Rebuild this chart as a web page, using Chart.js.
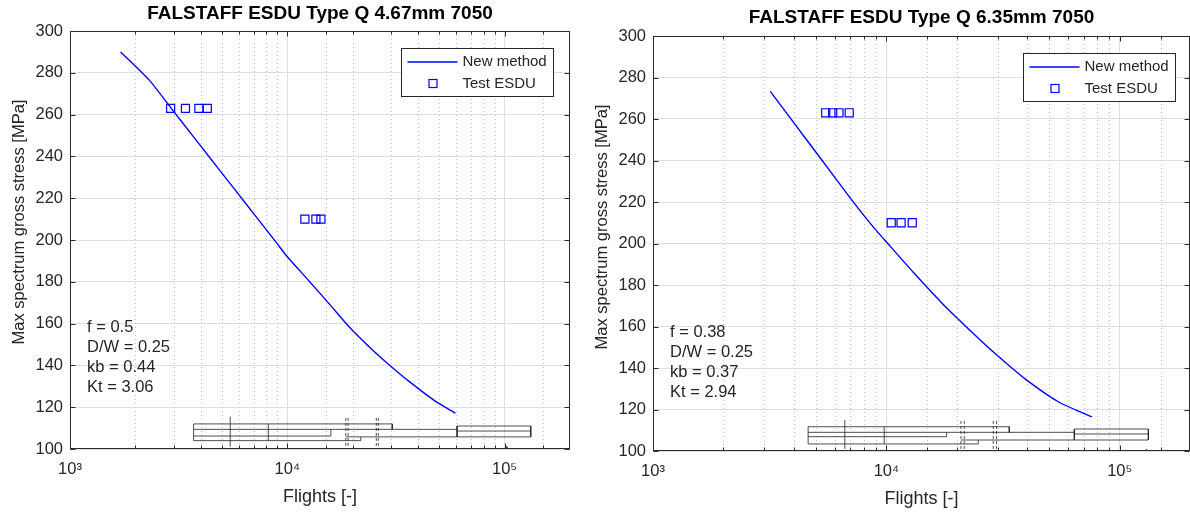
<!DOCTYPE html>
<html>
<head>
<meta charset="utf-8">
<script src="https://cdn.jsdelivr.net/npm/chart.js@4.4.1/dist/chart.umd.min.js"></script>
<style>
  html, body { margin: 0; padding: 0; background: #fff; }
  body { width: 1190px; height: 515px; position: relative; overflow: hidden; }
  .panel { position: absolute; top: 0; height: 515px; }
  #leftPanel { left: 0; width: 595px; }
  #rightPanel { left: 583px; width: 618px; }
</style>
</head>
<body>
<div class="panel" id="leftPanel"><canvas id="chartLeft"></canvas></div>
<div class="panel" id="rightPanel"><canvas id="chartRight"></canvas></div>
<script>
// ---- data ----
const titleLeft = 'FALSTAFF ESDU Type Q 4.67mm 7050';
const titleRight = 'FALSTAFF ESDU Type Q 6.35mm 7050';
const xTitle = 'Flights [-]';
const yTitle = 'Max spectrum gross stress [MPa]';

// "New method" curves (flights, stress MPa)
const newFlightsLeft = [1710, 2312, 2924, 3681, 4385, 5610, 7178, 8872, 10000, 12618, 15849, 19231, 24604, 30409, 35975, 47206, 59429];
const newStressLeft  = [290, 276.6, 263, 249.7, 239.6, 225.4, 211.2, 199, 192, 180.3, 168.6, 158.5, 147.5, 139, 132.7, 123.4, 117.1];
const newFlightsRight = [3182, 3914, 5309, 7009, 8778, 10320, 13070, 17230, 23150, 29490, 39560, 54970, 75900];
const newStressRight  = [273.3, 259.8, 240, 221.9, 208, 199, 186, 171.5, 157.5, 146.6, 134.5, 123.5, 116.4];

// short blue piece that dips under the axis near 1e5
const tailFlightsLeft = [102000, 107000];
const tailStressLeft  = [101.3, 97];
const tailFlightsRight = [130000, 134000];
const tailStressRight  = [100.8, 97];

// "Test ESDU" squares
const testFlightsLeft = [2905, 3398, 3918, 4284, 12050, 13540, 14280];
const testStressLeft  = [263, 263, 263, 263, 210, 210, 210];
const testFlightsRight = [5496, 5888, 6265, 6930, 10490, 11560, 12910];
const testStressRight  = [263, 263, 263, 263, 210, 210, 210];

// black box outline at the bottom: [x1, y1, x2, y2]
const boxLinesLeft = [
  [3706, 112, 30410, 112], [30410, 112, 30410, 109.4], [3706, 109.4, 60420, 109.4],
  [3706, 106.2, 15870, 106.2], [15870, 106.2, 15870, 109.4], [3706, 104, 21780, 104],
  [21780, 104, 21780, 105.8], [18590, 105.8, 132000, 105.8], [60420, 111, 132000, 111],
  [60420, 111, 60420, 105.8], [132000, 111, 132000, 105.8], [60420, 108.6, 132000, 108.6],
  [3706, 104, 3706, 112], [8180, 104, 8180, 112], [5461, 101.1, 5461, 115.5]
];
const boxDashLeft = [
  [18590, 101.5, 18590, 115.5], [19050, 101.5, 19050, 115.5],
  [25680, 101.5, 25680, 115.5], [26230, 101.5, 26230, 115.5]
];
const boxLinesRight = [
  [4620, 111.7, 33620, 111.7], [33620, 111.7, 33620, 109], [4620, 109, 63880, 109],
  [4620, 106.9, 18120, 106.9], [18120, 106.9, 18120, 109], [4620, 103.4, 24760, 103.4],
  [24760, 103.4, 24760, 105.3], [20870, 105.3, 132600, 105.3], [63880, 110.6, 132600, 110.6],
  [63880, 110.6, 63880, 105.3], [132600, 110.6, 132600, 105.3], [63880, 108.2, 132600, 108.2],
  [4620, 103.4, 4620, 111.7], [9786, 103.4, 9786, 111.7], [6637, 101, 6637, 114.9]
];
const boxDashRight = [
  [20870, 101, 20870, 114.9], [21560, 101, 21560, 114.9],
  [28710, 101, 28710, 114.9], [29650, 101, 29650, 114.9]
];

const notesLeft = ['f = 0.5', 'D/W = 0.25', 'kb = 0.44', 'Kt = 3.06'];
const notesRight = ['f = 0.38', 'D/W = 0.25', 'kb = 0.37', 'Kt = 2.94'];

const xMin = 1000, xMax = 200000;
const yMin = 100, yMax = 300, yStep = 20;
const legendLabels = ['New method', 'Test ESDU'];

// ---- helpers ----
const FONT = '"Liberation Sans", Arial, Helvetica, sans-serif';
const TXT = '#262626';
const BLUE = '#0000ff';
const SUP = { '0': '\u2070', '1': '\u00b9', '2': '\u00b2', '3': '\u00b3', '4': '\u2074', '5': '\u2075', '6': '\u2076' };

function isPow10(v) {
    const l = Math.log10(v);
    return Math.abs(l - Math.round(l)) < 1e-9;
}

function toPoints(xs, ys) {
    return xs.map((x, i) => ({ x: x, y: ys[i] }));
}

function segmentsToPoints(segs) {
    const pts = [];
    segs.forEach(s => {
        pts.push({ x: s[0], y: s[1] });
        pts.push({ x: s[2], y: s[3] });
        pts.push({ x: s[2], y: null });
    });
    return pts;
}

// MATLAB style box, inward ticks, dotted minor grid, titles, legend and note text
const matlabFrame = {
    id: 'matlabFrame',
    beforeDatasetsDraw(chart) {
        const { ctx, chartArea: a, scales: { x } } = chart;
        ctx.save();
        ctx.strokeStyle = '#c4c4c4';
        ctx.lineWidth = 1;
        ctx.setLineDash([1, 3]);
        x.ticks.forEach(t => {
            if (isPow10(t.value) || t.value <= xMin || t.value >= xMax) return;
            const px = Math.round(x.getPixelForValue(t.value)) + 0.5;
            ctx.beginPath();
            ctx.moveTo(px, a.top);
            ctx.lineTo(px, a.bottom);
            ctx.stroke();
        });
        ctx.restore();
    },
    afterDatasetsDraw(chart, args, opts) {
        const { ctx, chartArea: a, scales: { x, y } } = chart;
        const L = Math.round(a.left) + 0.5, R = Math.round(a.right) - 0.5;
        const T = Math.round(a.top) + 0.5, B = Math.round(a.bottom) - 0.5;
        ctx.save();
        ctx.strokeStyle = '#2b2b2b';
        ctx.lineWidth = 1;
        ctx.setLineDash([]);
        ctx.strokeRect(L, T, R - L, B - T);

        ctx.beginPath();
        y.ticks.forEach(t => {
            const py = Math.round(y.getPixelForValue(t.value)) + 0.5;
            ctx.moveTo(L, py); ctx.lineTo(L + 5, py);
            ctx.moveTo(R, py); ctx.lineTo(R - 5, py);
        });
        x.ticks.forEach(t => {
            if (t.value <= xMin || t.value >= xMax) return;
            const px = Math.round(x.getPixelForValue(t.value)) + 0.5;
            const len = isPow10(t.value) ? 5 : 3;
            ctx.moveTo(px, B); ctx.lineTo(px, B - len);
            ctx.moveTo(px, T); ctx.lineTo(px, T + len);
        });
        ctx.stroke();

        // title centred over the plot box
        ctx.fillStyle = '#000';
        ctx.font = 'bold 19px ' + FONT;
        ctx.textAlign = 'center';
        ctx.textBaseline = 'middle';
        ctx.fillText(opts.title, (a.left + a.right) / 2, opts.titleY);

        // y axis label (sits a little above the axis centre in the source)
        ctx.save();
        ctx.fillStyle = TXT;
        ctx.font = '16.5px ' + FONT;
        ctx.translate(19, a.top + 191);
        ctx.rotate(-Math.PI / 2);
        ctx.fillText(yTitle, 0, 0);
        ctx.restore();

        // legend box
        const w = 152, h = 48;
        const lx = Math.round(a.right - opts.legendRight - w) + 0.5;
        const ly = Math.round(a.top + 17) + 0.5;
        ctx.fillStyle = '#fff';
        ctx.fillRect(lx, ly, w, h);
        ctx.strokeStyle = '#262626';
        ctx.strokeRect(lx, ly, w, h);
        ctx.strokeStyle = BLUE;
        ctx.lineWidth = 1.4;
        ctx.beginPath();
        ctx.moveTo(lx + 6, ly + 13.5);
        ctx.lineTo(lx + 56, ly + 13.5);
        ctx.stroke();
        ctx.lineWidth = 1.2;
        ctx.strokeRect(lx + 27.5, ly + 31, 8, 8);
        ctx.fillStyle = TXT;
        ctx.font = '15px ' + FONT;
        ctx.textAlign = 'left';
        ctx.fillText(legendLabels[0], lx + 61, ly + 13.5);
        ctx.fillText(legendLabels[1], lx + 61, ly + 35);

        // parameter text
        ctx.font = '16.5px ' + FONT;
        opts.notes.forEach((s, i) => {
            ctx.fillText(s, a.left + 17, a.top + 296 + 20.3 * i);
        });
        ctx.restore();
    }
};

function makeChart(id, cfg) {
    const datasets = [
        {
            label: 'boxes',
            data: segmentsToPoints(cfg.boxLines),
            borderColor: '#222',
            borderWidth: 0.8,
            pointRadius: 0,
            spanGaps: false
        },
        {
            label: 'boxes dashed',
            data: segmentsToPoints(cfg.boxDash),
            borderColor: '#222',
            borderWidth: 0.8,
            borderDash: [3, 2],
            pointRadius: 0,
            spanGaps: false
        },
        {
            label: legendLabels[0],
            data: toPoints(cfg.newX, cfg.newY),
            borderColor: BLUE,
            borderWidth: 1.4,
            pointRadius: 0,
            tension: 0.2
        },
        {
            label: 'tail',
            data: toPoints(cfg.tailX, cfg.tailY),
            borderColor: BLUE,
            borderWidth: 1.4,
            pointRadius: 0
        },
        {
            label: legendLabels[1],
            data: toPoints(cfg.testX, cfg.testY),
            showLine: false,
            pointStyle: 'rect',
            pointRadius: 5.7,
            pointBorderWidth: 1.2,
            borderColor: BLUE,
            pointBorderColor: BLUE,
            pointBackgroundColor: 'rgba(0,0,0,0)',
            backgroundColor: 'rgba(0,0,0,0)'
        }
    ];

    return new Chart(document.getElementById(id), {
        type: 'line',
        data: { datasets: datasets },
        plugins: [matlabFrame],
        options: {
            responsive: true,
            maintainAspectRatio: false,
            animation: false,
            layout: { padding: { left: 0, right: cfg.padRight, top: cfg.padTop, bottom: cfg.padBottom } },
            plugins: {
                legend: { display: false },
                tooltip: { enabled: false },
                title: { display: false },
                matlabFrame: { legendRight: cfg.legendRight, notes: cfg.notes, title: cfg.title, titleY: cfg.titleY }
            },
            scales: {
                x: {
                    type: 'logarithmic',
                    min: xMin,
                    max: xMax,
                    afterFit: s => { s.height = 60; },
                    border: { display: false },
                    grid: {
                        drawTicks: false,
                        color: c => (c.tick && isPow10(c.tick.value)) ? '#dedede' : 'rgba(0,0,0,0)',
                        lineWidth: 1
                    },
                    ticks: {
                        autoSkip: false,
                        maxRotation: 0,
                        padding: 11,
                        color: TXT,
                        font: { family: FONT, size: 16.5 },
                        callback: v => {
                            if (!isPow10(v)) return '';
                            const e = String(Math.round(Math.log10(v)));
                            return '10' + e.split('').map(d => SUP[d]).join('');
                        }
                    },
                    title: {
                        display: true,
                        text: xTitle,
                        color: TXT,
                        font: { family: FONT, size: 18 },
                        padding: { top: 0, bottom: 1 }
                    }
                },
                y: {
                    min: yMin,
                    max: yMax,
                    afterFit: s => { s.width = 70; },
                    border: { display: false },
                    grid: { drawTicks: false, color: '#dedede', lineWidth: 1 },
                    ticks: {
                        stepSize: yStep,
                        padding: 7,
                        color: TXT,
                        font: { family: FONT, size: 16.5 }
                    },
                    title: { display: false }
                }
            }
        }
    });
}

makeChart('chartLeft', {
    title: titleLeft, titleY: 14,
    newX: newFlightsLeft, newY: newStressLeft,
    tailX: tailFlightsLeft, tailY: tailStressLeft,
    testX: testFlightsLeft, testY: testStressLeft,
    boxLines: boxLinesLeft, boxDash: boxDashLeft,
    notes: notesLeft,
    padRight: 25, padTop: 31, padBottom: 6,
    legendRight: 17
});

makeChart('chartRight', {
    title: titleRight, titleY: 18,
    newX: newFlightsRight, newY: newStressRight,
    tailX: tailFlightsRight, tailY: tailStressRight,
    testX: testFlightsRight, testY: testStressRight,
    boxLines: boxLinesRight, boxDash: boxDashRight,
    notes: notesRight,
    padRight: 0, padTop: 36, padBottom: 4,
    legendRight: 15
});
</script>
</body>
</html>
